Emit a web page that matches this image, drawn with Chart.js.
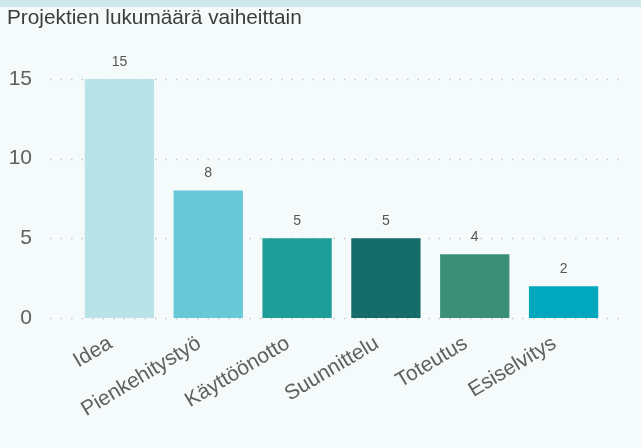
<!DOCTYPE html>
<html>
<head>
<meta charset="utf-8">
<script src="https://cdn.jsdelivr.net/npm/chart.js@4/dist/chart.umd.min.js"></script>
<style>
    html, body { margin: 0; padding: 0; }
    body {
        width: 641px;
        height: 448px;
        overflow: hidden;
        background: linear-gradient(#cfe8ec 0, #cfe8ec 7px, #f5fbfb 7px);
    }
    #wrap { position: relative; width: 641px; height: 448px; }
</style>
</head>
<body>
<div id="wrap"><canvas id="phaseChart"></canvas></div>
<script>
// Chart data
const phases = ['Idea', 'Pienkehitystyö', 'Käyttöönotto', 'Suunnittelu', 'Toteutus', 'Esiselvitys'];
const projectCounts = [15, 8, 5, 5, 4, 2];
const barColors = ['#b9e3e7', '#68c9d6', '#1f9d98', '#166c68', '#3c8f77', '#00a7bd'];
const yTicks = [0, 5, 10, 15];

const FONT = '"Liberation Sans", Arial, sans-serif';

// Dotted horizontal grid that runs a bit wider than the plot area
const dottedGrid = {
    id: 'dottedGrid',
    beforeDatasetsDraw(chart) {
        const ctx = chart.ctx;
        const y = chart.scales.y;
        ctx.save();
        ctx.strokeStyle = '#c4c8c8';
        ctx.lineWidth = 1.5;
        ctx.setLineDash([1.5, 9]);
        yTicks.forEach(t => {
            const py = Math.round(y.getPixelForValue(t)) + 0.5;
            ctx.beginPath();
            ctx.moveTo(50, py);
            ctx.lineTo(626, py);
            ctx.stroke();
        });
        ctx.restore();
    }
};

// Value labels above each bar
const valueLabels = {
    id: 'valueLabels',
    afterDatasetsDraw(chart) {
        const ctx = chart.ctx;
        const meta = chart.getDatasetMeta(0);
        ctx.save();
        ctx.fillStyle = '#555';
        ctx.font = '14px ' + FONT;
        ctx.textAlign = 'center';
        ctx.textBaseline = 'middle';
        meta.data.forEach((bar, i) => {
            ctx.fillText(projectCounts[i], bar.x, bar.y - 17);
        });
        ctx.restore();
    }
};

new Chart(document.getElementById('phaseChart'), {
    type: 'bar',
    data: {
        labels: phases,
        datasets: [{
            data: projectCounts,
            backgroundColor: barColors,
            borderWidth: 0,
            categoryPercentage: 1,
            barPercentage: 0.78
        }]
    },
    options: {
        responsive: true,
        maintainAspectRatio: false,
        animation: false,
        layout: {
            padding: { left: 7, right: 33, top: 0, bottom: 0 }
        },
        plugins: {
            legend: { display: false },
            tooltip: { enabled: false },
            title: {
                display: true,
                text: 'Projektien lukumäärä vaiheittain',
                align: 'start',
                color: '#3c3c3c',
                font: { family: FONT, size: 20.8, weight: 'normal' },
                padding: { top: 6, bottom: 48 }
            }
        },
        scales: {
            y: {
                min: 0,
                max: 15,
                afterFit: s => { s.width = 68; },
                afterBuildTicks: s => { s.ticks = yTicks.map(v => ({ value: v })); },
                grid: { display: false },
                border: { display: false },
                ticks: {
                    color: '#606060',
                    padding: 35,
                    font: { family: FONT, size: 21 }
                }
            },
            x: {
                afterFit: s => { s.height = 130; },
                grid: { display: false },
                border: { display: false },
                ticks: {
                    color: '#606060',
                    padding: 5,
                    labelOffset: -9,
                    minRotation: 31,
                    maxRotation: 31,
                    autoSkip: false,
                    font: { family: FONT, size: 21 }
                }
            }
        }
    },
    plugins: [dottedGrid, valueLabels]
});
</script>
</body>
</html>
